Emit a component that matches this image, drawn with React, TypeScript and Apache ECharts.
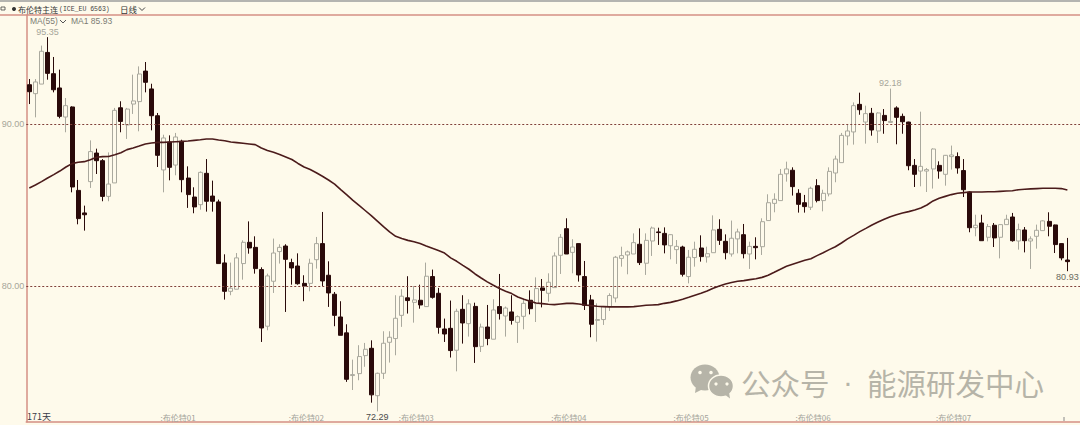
import React, { useEffect, useRef } from "react";
import * as echarts from "echarts";

const opens = [
  92.42,91.87,92.46,94.41,93.10,92.22,90.43,91.05,85.91,84.52,
  86.45,88.21,87.74,85.54,86.37,91.00,89.94,91.23,91.38,93.26,
  92.16,90.51,87.17,88.89,87.47,88.93,86.67,85.50,85.03,86.96,
  85.56,85.20,81.44,79.69,79.82,81.40,82.71,82.40,81.03,77.54,
  80.31,82.14,82.48,81.46,81.25,80.18,80.18,81.64,82.63,80.68,
  79.51,78.11,77.13,74.50,74.62,75.73,76.18,73.26,74.64,76.55,
  76.78,78.21,79.29,79.01,79.14,78.75,80.60,79.57,77.37,77.41,
  76.06,78.58,77.70,78.76,76.30,77.49,76.74,78.75,78.17,78.42,
  77.78,78.15,79.14,78.93,79.90,79.57,79.92,81.91,83.55,82.09,
  82.63,80.60,79.16,77.90,77.95,78.75,79.28,81.72,81.93,81.99,
  82.59,81.42,82.79,83.35,83.26,82.50,82.26,82.42,80.60,81.77,
  82.36,81.81,82.07,83.51,82.77,81.99,82.92,83.18,81.99,82.46,
  82.44,84.05,85.11,85.28,86.93,87.15,85.73,85.15,84.87,86.20,
  85.28,85.69,86.98,87.62,89.26,89.51,91.21,90.12,90.66,89.57,
  90.53,90.10,90.99,90.47,90.12,87.45,87.10,87.10,87.23,87.45,
  86.90,87.99,87.99,87.13,85.81,83.61,83.90,83.02,83.76,83.02,
  83.80,84.27,82.79,83.47,82.79,83.08,83.43,84.00,83.78,82.63,81.62,
];
const closes = [
  91.99,92.59,94.48,93.12,92.11,90.47,91.13,86.12,84.17,84.41,
  88.30,87.74,85.54,86.30,90.84,90.16,90.92,91.42,93.08,92.57,
  90.51,88.07,89.14,87.33,89.20,86.57,85.65,84.89,87.02,85.24,
  85.24,81.40,79.69,79.88,81.75,82.71,82.36,81.09,77.43,80.64,
  82.05,82.40,81.66,81.13,80.16,80.02,81.42,82.63,80.33,79.59,
  78.21,76.98,74.27,74.56,75.67,76.12,73.31,74.64,76.49,76.86,
  78.03,79.39,79.12,79.16,78.85,80.62,79.32,77.47,77.06,76.04,
  78.46,77.74,78.92,76.28,77.49,76.78,78.54,78.32,78.66,77.90,
  78.13,78.95,78.62,79.86,79.75,80.25,81.87,83.02,81.99,82.42,
  80.70,78.83,77.66,77.95,78.75,79.43,81.79,81.89,82.12,82.69,
  81.46,82.83,83.59,83.31,82.55,83.18,82.46,80.74,81.79,82.28,
  81.83,82.01,83.47,82.83,82.07,82.96,83.35,82.01,82.46,82.38,
  83.98,85.15,85.36,86.90,87.23,86.14,85.05,84.91,86.04,85.28,
  85.73,87.08,87.84,89.30,89.57,91.13,90.88,90.64,89.63,90.68,
  90.21,90.16,90.41,90.14,87.43,86.90,87.39,87.19,88.46,87.10,
  88.07,88.09,87.29,85.95,83.61,83.76,82.81,83.68,82.98,83.80,
  84.13,82.81,83.49,82.81,82.92,83.45,84.03,83.70,82.57,81.75,81.52,
];
const lows = [
  91.23,90.41,92.46,92.73,91.95,90.35,89.49,85.79,83.82,83.43,
  86.06,86.92,85.24,85.24,86.37,89.49,89.08,90.62,89.55,91.95,
  89.61,87.35,85.79,86.53,86.84,85.79,84.83,84.50,84.72,84.60,
  84.60,81.40,79.18,79.45,79.82,80.41,82.01,80.78,76.57,77.29,
  79.59,81.40,78.42,80.10,80.10,79.08,79.69,81.09,80.02,78.73,
  77.54,76.98,74.11,73.61,74.21,75.04,72.83,72.29,74.29,75.30,
  75.75,77.50,78.32,77.76,78.62,78.75,79.24,77.08,76.57,75.61,
  74.76,76.47,76.90,75.28,75.95,76.37,76.74,77.95,76.90,77.64,
  76.51,77.35,78.27,77.80,78.70,79.05,79.92,80.76,81.99,80.80,
  80.29,78.54,76.86,76.59,77.62,78.48,79.01,81.21,80.74,81.99,
  81.31,80.70,81.87,82.55,82.03,81.66,81.38,80.60,80.18,81.21,
  81.52,81.46,82.07,82.55,81.66,81.83,82.03,81.72,81.07,81.66,
  81.93,84.05,84.56,85.28,86.45,85.59,84.54,84.54,84.70,85.17,
  84.62,85.54,86.41,87.62,88.69,88.73,90.57,88.79,89.28,88.83,
  89.40,90.10,88.75,89.40,87.15,86.12,86.16,85.81,86.02,86.63,
  86.20,87.19,86.94,85.50,83.33,83.08,82.81,82.77,82.42,81.72,
  83.80,82.75,82.26,82.09,81.07,82.32,83.43,83.08,82.05,81.60,80.93,
];
const highs = [
  92.77,92.77,94.83,95.35,94.13,93.35,91.60,91.09,86.55,84.97,
  88.99,88.48,87.84,88.25,90.99,91.40,90.99,93.04,93.55,93.82,
  92.48,90.68,89.34,89.30,89.45,89.03,87.39,86.10,87.08,87.84,
  86.51,85.34,81.97,81.46,82.05,82.83,84.00,83.08,81.17,80.78,
  82.94,82.59,82.59,81.70,82.03,80.68,81.70,83.04,84.58,81.54,
  79.65,79.08,77.66,75.48,76.37,76.51,76.67,74.68,77.23,77.23,
  79.45,79.82,80.62,80.02,80.10,81.46,81.03,79.90,78.01,79.12,
  78.62,79.45,79.20,78.99,77.70,78.85,79.20,80.76,78.75,79.45,
  78.21,79.20,79.75,80.55,80.45,80.80,82.09,83.22,84.19,82.90,
  82.63,81.56,79.47,78.95,78.75,79.57,81.87,82.44,82.20,83.26,
  83.57,83.26,83.68,83.61,83.63,83.20,82.85,82.50,82.24,82.75,
  83.14,82.44,84.37,84.13,83.20,84.05,83.55,83.84,82.75,83.02,
  84.19,85.67,85.73,87.23,87.68,87.33,85.98,85.63,86.14,86.60,
  85.95,87.33,88.05,89.45,90.00,91.33,91.93,91.13,90.99,90.72,
  90.92,92.18,91.09,90.64,90.14,87.84,90.76,87.29,88.50,87.70,
  88.09,88.67,88.25,87.84,85.85,84.41,84.41,83.84,83.90,83.84,
  84.41,84.52,83.86,83.65,83.08,83.80,84.07,84.56,83.80,82.65,82.98,
];
const ma55 = [
  86.06,86.24,86.45,86.67,86.88,87.10,87.35,87.56,87.64,87.68,
  87.80,87.95,87.99,88.00,88.11,88.23,88.42,88.52,88.64,88.77,
  88.83,88.87,88.87,88.89,88.91,88.93,88.95,88.99,89.03,89.08,
  89.08,89.01,88.97,88.89,88.85,88.81,88.77,88.73,88.52,88.37,
  88.26,88.12,87.97,87.81,87.57,87.35,87.20,87.00,86.78,86.55,
  86.30,85.96,85.63,85.29,84.98,84.67,84.36,84.02,83.68,83.35,
  83.08,82.94,82.83,82.75,82.63,82.48,82.34,82.20,82.05,81.75,
  81.54,81.29,81.05,80.76,80.51,80.27,80.06,79.86,79.69,79.55,
  79.34,79.20,79.08,78.97,78.93,78.89,78.87,78.91,78.95,78.95,
  78.91,78.85,78.81,78.77,78.75,78.73,78.73,78.73,78.73,78.75,
  78.79,78.83,78.85,78.87,78.95,79.01,79.10,79.20,79.32,79.45,
  79.57,79.71,79.88,80.02,80.14,80.23,80.31,80.35,80.41,80.47,
  80.55,80.68,80.86,81.05,81.23,81.36,81.48,81.60,81.70,81.89,
  82.07,82.26,82.44,82.67,82.92,83.14,83.37,83.57,83.78,83.96,
  84.13,84.29,84.41,84.52,84.60,84.70,84.83,85.01,85.26,85.42,
  85.54,85.65,85.73,85.77,85.81,85.81,85.81,85.83,85.83,85.85,
  85.87,85.89,85.95,85.98,86.00,86.02,86.04,86.04,86.04,86.02,85.93,
];

const monthLabels: Record<number, string> = {
  21: ":布伦特01",
  42: ":布伦特02",
  60: ":布伦特03",
  85: ":布伦特04",
  105: ":布伦特05",
  125: ":布伦特06",
  148: ":布伦特07",
};
const priceTicks = [80, 90];
const extremes = [
  { index: 3, value: 95.35, place: "top", color: "#a6a69a" },
  { index: 141, value: 92.18, place: "top", color: "#a6a69a" },
  { index: 57, value: 72.29, place: "bottom", color: "#4a4a4a" },
  { index: 170, value: 80.93, place: "bottom", color: "#6a6a60" },
];

const BG = "#FEFAEB";
const FRAME = "#d48f84";
const MARK = "#b6b4a8";
const SANS = '"Liberation Sans", Arial, sans-serif';
const CJK = '"Noto Sans CJK SC", sans-serif';

echarts.graphic.registerShape(
  "chev",
  echarts.graphic.extendPath("M0 0 L3 3 L6 0", {})
);

export default function App() {
  const ref = useRef<HTMLDivElement>(null);
  useEffect(() => {
    document.body.style.margin = "0";
    document.body.style.background = BG;
    const chart = echarts.init(ref.current!, null, { renderer: "svg" });
    const categories = Array.from({ length: 173 }, (_, i) => monthLabels[i] ?? String(i));
    const candles = opens.map((o, i) => [o, closes[i], lows[i], highs[i]]);
    const txt = (x: number, y: number, text: string, fontSize: number, fill: string, fontFamily = SANS) => ({
      type: "text",
      x,
      y,
      silent: true,
      z: 20,
      style: { text, fontSize, fill, fontFamily, verticalAlign: "middle" },
    });
    chart.setOption({
      animation: false,
      backgroundColor: BG,
      grid: { left: 26.25, top: 15, width: 1056.4, height: 406.7, containLabel: false, outerBoundsMode: "none" },
      xAxis: {
        type: "category",
        data: categories,
        boundaryGap: true,
        axisLine: { show: true, lineStyle: { color: FRAME, width: 1.5 } },
        axisTick: { show: false },
        splitLine: { show: false },
        axisLabel: {
          inside: true,
          margin: 0,
          interval: (i: number) => monthLabels[i] !== undefined,
          formatter: (v: string) => (v.startsWith(":") ? v : ""),
          align: "left",
          padding: [0, 0, 0, 3],
          fontSize: 8,
          color: "#a3a39a",
          fontFamily: CJK,
          hideOverlap: false,
        },
      },
      yAxis: {
        type: "value",
        min: 71.657,
        max: 96.716,
        scale: true,
        axisLine: { show: true, lineStyle: { color: FRAME, width: 1.5 } },
        axisTick: { show: false },
        splitLine: { show: false },
        axisLabel: {
          customValues: priceTicks,
          formatter: (v: number) => v.toFixed(2),
          margin: 2,
          fontSize: 9,
          color: "#a6a69a",
          fontFamily: SANS,
        },
      },
      series: [
        {
          type: "candlestick",
          data: candles,
          barWidth: 4.5,
          itemStyle: {
            color: BG,
            color0: "#2a0a0a",
            borderColor: "#aaa99e",
            borderColor0: "#2a0a0a",
            borderWidth: 1,
          },
          markPoint: {
            symbol: "circle",
            symbolSize: 0,
            silent: true,
            data: extremes.map((e) => ({
              coord: [e.index, e.value],
              value: e.value,
              label: {
                show: true,
                position: e.place,
                distance: 1,
                formatter: e.value.toFixed(2),
                fontSize: 9,
                fontFamily: SANS,
                color: e.color,
              },
            })),
          },
          markLine: {
            silent: true,
            symbol: "none",
            label: { show: false },
            lineStyle: { color: "#7f3f38", width: 1, type: [2, 2] },
            data: priceTicks.map((v) => ({ yAxis: v })),
          },
        },
        {
          type: "line",
          data: ma55,
          symbol: "none",
          smooth: false,
          z: 5,
          lineStyle: { color: "#4b1b1b", width: 1.6 },
        },
      ],
      graphic: [
        { type: "rect", silent: true, z: 10, shape: { x: 0, y: 0, width: 1080, height: 2 }, style: { fill: "#b4b4b0" } },
        { type: "line", silent: true, z: 10, shape: { x1: 0, y1: 15, x2: 1080, y2: 15 }, style: { stroke: FRAME, lineWidth: 1.5 } },
        { type: "rect", silent: true, z: 10, shape: { x: 1, y: 7, width: 4, height: 3 }, style: { fill: BG, stroke: "#444", lineWidth: 0.8 } },
        { type: "circle", silent: true, z: 10, shape: { cx: 14, cy: 9, r: 2 }, style: { fill: "#333" } },
        txt(18, 9, "布伦特主连", 8, "#333", CJK),
        txt(59, 9, "(ICE_EU 6563)", 6.5, "#444", '"Liberation Mono", monospace'),
        txt(120, 9, "日线", 8.5, "#333", CJK),
        { type: "chev", silent: true, z: 20, x: 139, y: 7.5, style: { fill: "none", stroke: "#444", lineWidth: 1 } },
        txt(30, 21, "MA(55)", 8.5, "#7c7c74"),
        { type: "chev", silent: true, z: 20, x: 60, y: 20, style: { fill: "none", stroke: "#555", lineWidth: 1 } },
        txt(71, 21, "MA1 85.93", 8.5, "#7c7c74"),
        txt(27, 416, "171天", 9, "#3a3a48", CJK),
        { type: "line", silent: true, z: 10, shape: { x1: 1064, y1: 417, x2: 1064, y2: 421 }, style: { stroke: "#888", lineWidth: 1 } },
        { type: "ellipse", silent: true, z: 20, shape: { cx: 705, cy: 377.5, rx: 14.5, ry: 13 }, style: { fill: MARK } },
        { type: "polygon", silent: true, z: 20, shape: { points: [[696, 386], [695, 393], [703, 389]] }, style: { fill: MARK } },
        { type: "circle", silent: true, z: 21, shape: { cx: 700, cy: 372.5, r: 1.8 }, style: { fill: BG } },
        { type: "circle", silent: true, z: 21, shape: { cx: 711, cy: 372.5, r: 1.8 }, style: { fill: BG } },
        { type: "ellipse", silent: true, z: 22, shape: { cx: 721, cy: 386, rx: 12.5, ry: 11 }, style: { fill: MARK, stroke: BG, lineWidth: 1.5 } },
        { type: "polygon", silent: true, z: 23, shape: { points: [[724, 394], [730, 398.5], [729, 392]] }, style: { fill: MARK } },
        { type: "circle", silent: true, z: 24, shape: { cx: 716, cy: 384, r: 1.6 }, style: { fill: BG } },
        { type: "circle", silent: true, z: 24, shape: { cx: 727, cy: 384, r: 1.6 }, style: { fill: BG } },
        txt(741, 381.5, "公众号", 29.5, MARK, CJK),
        txt(843, 381.5, "·", 29.5, MARK, SANS),
        txt(867, 381.5, "能源研发中心", 29.5, MARK, CJK),
      ],
    });
    return () => chart.dispose();
  }, []);
  return <div ref={ref} style={{ width: 1080, height: 425 }} />;
}
